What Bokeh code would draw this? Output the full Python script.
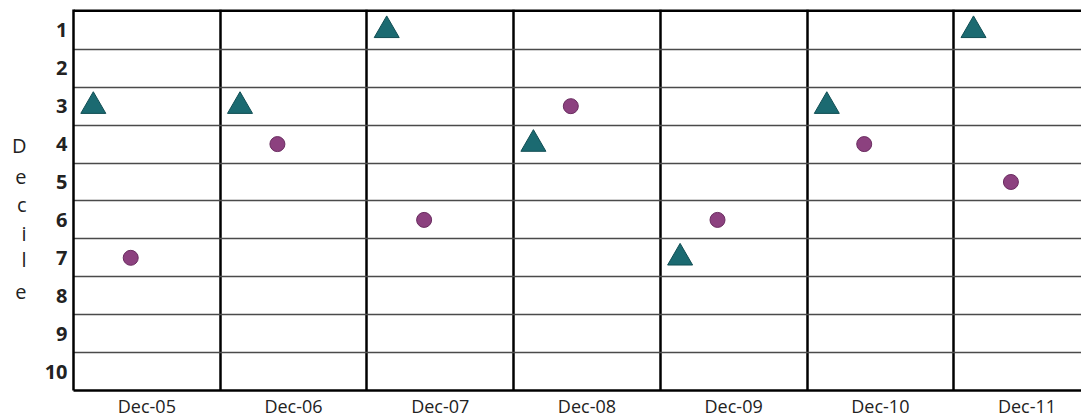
from bokeh.plotting import figure
from bokeh.models import Range1d, FixedTicker, Span, LinearAxis
from bokeh.embed import file_html
from bokeh.resources import INLINE

periods = ["Dec-05", "Dec-06", "Dec-07", "Dec-08", "Dec-09", "Dec-10", "Dec-11"]
triangle_decile = [3, 3, 1, 4, 7, 3, 1]
circle_decile = [7, 4, 6, 3, 6, 4, 5]
decile_ticks = [1, 2, 3, 4, 5, 6, 7, 8, 9, 10]
axis_title_letters = ["D", "e", "c", "i", "l", "e"]

TRI_OFF = 0.135
CIR_OFF = 0.39
PERIOD_PX = 146.7

W, H = 1081, 420
LEFT = 73
FRAME_W = W - LEFT
p = figure(width=W, height=H, output_backend="svg", toolbar_location=None,
           x_range=Range1d(0, FRAME_W / PERIOD_PX), y_range=Range1d(10.5, 0.45),
           min_border_left=LEFT, min_border_right=0, min_border_top=9, min_border_bottom=29)
p.outline_line_color = None
p.background_fill_color = "white"
p.border_fill_color = "white"

# x axis
p.xaxis.ticker = FixedTicker(ticks=[i + 0.5 for i in range(len(periods))])
p.xaxis.major_label_overrides = {i + 0.5: lab for i, lab in enumerate(periods)}
p.xaxis.major_tick_line_color = None
p.xaxis.major_tick_out = 0
p.xaxis.major_tick_in = 0
p.xaxis.minor_tick_line_color = None
p.xaxis.axis_line_color = "black"
p.xaxis.axis_line_width = 2.5
p.xaxis.major_label_standoff = 3
p.xaxis.major_label_text_font = "Open Sans"
p.xaxis.major_label_text_font_size = "18px"
p.xaxis.major_label_text_color = "#222222"

# y axis
p.yaxis.ticker = FixedTicker(ticks=decile_ticks)
p.yaxis.major_tick_line_color = None
p.yaxis.major_tick_out = 0
p.yaxis.major_tick_in = 0
p.yaxis.minor_tick_line_color = None
p.yaxis.axis_line_color = "black"
p.yaxis.axis_line_width = 2.5
p.yaxis.major_label_standoff = 6
p.yaxis.major_label_text_font = "Open Sans"
p.yaxis.major_label_text_font_style = "bold"
p.yaxis.major_label_text_font_size = "20px"
p.yaxis.major_label_text_color = "#222222"

# stacked "Decile" title as an extra left axis
letter_y = [4.05, 4.85, 5.6, 6.35, 7.05, 7.9]
title_axis = LinearAxis(ticker=FixedTicker(ticks=letter_y),
                        major_label_overrides={yy: ch for yy, ch in zip(letter_y, axis_title_letters)})
title_axis.axis_line_color = None
title_axis.major_tick_line_color = None
title_axis.major_tick_out = 0
title_axis.major_tick_in = 0
title_axis.minor_tick_line_color = None
title_axis.major_label_standoff = 15
title_axis.major_label_text_align = "center"
title_axis.major_label_text_font = "Open Sans"
title_axis.major_label_text_font_size = "20px"
title_axis.major_label_text_color = "#222222"
p.add_layout(title_axis, "left")

# grids
p.ygrid.ticker = FixedTicker(ticks=[d + 0.5 for d in decile_ticks[:-1]])
p.ygrid.grid_line_color = "#4a4a4a"
p.ygrid.grid_line_width = 1.3
p.xgrid.ticker = FixedTicker(ticks=list(range(1, len(periods))))
p.xgrid.grid_line_color = "black"
p.xgrid.grid_line_width = 2.5

# top border
p.add_layout(Span(location=0.45, dimension="width", line_color="black", line_width=5))

idx = list(range(len(periods)))
p.scatter([i + TRI_OFF for i in idx], triangle_decile, marker="triangle", size=25,
          fill_color="#1b6a71", line_color="#0f4d53", line_width=1)
p.scatter([i + CIR_OFF for i in idx], circle_decile, marker="circle", size=15,
          fill_color="#8c417f", line_color="#6a2c60", line_width=1)

open("out.html", "w").write(file_html(p, INLINE))
